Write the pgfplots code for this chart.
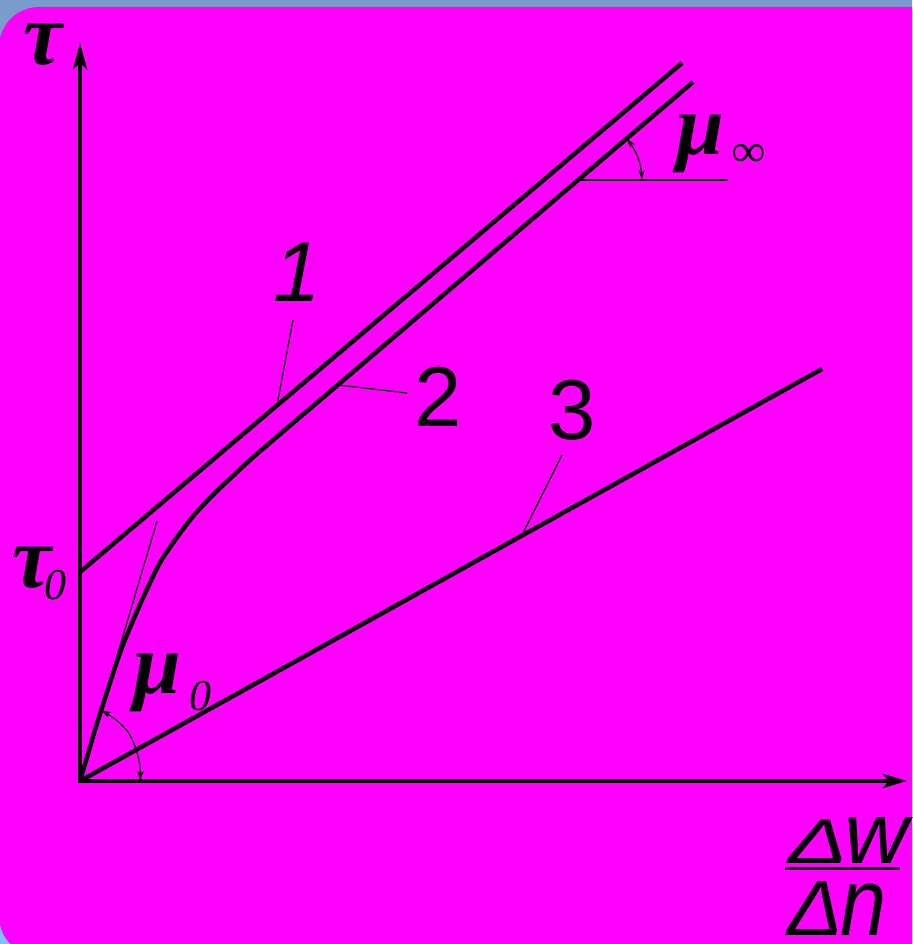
\documentclass[border=0pt]{standalone}
\usepackage{pgfplots}
\pgfplotsset{compat=1.18}
\usepackage{fontspec}
\setmainfont{Liberation Sans}
\newfontfamily\greekserif{Liberation Serif}
\usetikzlibrary{arrows.meta}

\definecolor{panel}{RGB}{255,0,255}
\definecolor{skytop}{RGB}{122,156,204}
\definecolor{skybot}{RGB}{128,192,255}

% glyph helpers
\newcommand{\bgr}[2]{{\fontsize{#1}{#1}\greekserif\bfseries\itshape #2}}
\newcommand{\sub}[2]{{\fontsize{#1}{#1}\greekserif\itshape #2}}
\newcommand{\num}[1]{{\fontsize{42.5pt}{42.5pt}\selectfont #1}}

\begin{document}
\begin{tikzpicture}
\begin{axis}[
  scale only axis, width=456pt, height=472pt,
  xmin=-80, xmax=832, ymin=-163, ymax=781,
  hide axis, clip=true,
]
% backdrop and rounded panel
\fill[top color=skytop, bottom color=skybot] (rel axis cs:0,0) rectangle (rel axis cs:1,1);
\fill[panel, rounded corners=20pt] (axis cs:-81,774) rectangle (axis cs:880,-175);
\coordinate (bbsw) at (rel axis cs:0,0);
\coordinate (bbne) at (rel axis cs:1,1);

% coordinate axes
\addplot[line width=2.4pt, -{Stealth[length=13pt, width=7pt, inset=3pt]}] coordinates {(0,-2) (0,738)};
\addplot[line width=2.4pt, -{Stealth[length=12pt, width=7pt, inset=3pt]}] coordinates {(-2,0) (827,0)};

% curve 1: Bingham line with yield stress tau_0
\addplot[line width=2.2pt] coordinates {(0,209) (602,718)};
% curve 2: pseudoplastic flow curve
\addplot[line width=2.2pt, smooth, tension=0.5] coordinates {
  (0,0) (8,27) (15,51) (28,92) (41,131) (55,165) (68,194) (81,220)
  (98,245) (115,267) (135,288) (155,307) (178,328) (250,389.4)
  (350,474.7) (450,560) (613,699)};
% curve 3: Newtonian line
\addplot[line width=2.2pt] coordinates {(0,0) (742,412)};

% initial tangent of curve 2
\addplot[line width=0.6pt] coordinates {(0,0) (77,260)};

% leader lines to the curve numbers
\addplot[line width=0.6pt] coordinates {(213,461) (197,376)};
\addplot[line width=0.6pt] coordinates {(327,388) (258,396)};
\addplot[line width=0.6pt] coordinates {(482,326) (442,246)};

% angle mu_infinity
\addplot[line width=1pt] coordinates {(498,601) (648,601)};
\addplot[line width=0.6pt, smooth, {Stealth[length=5pt, width=3pt]}-{Stealth[length=5pt, width=3pt]}]
  coordinates {(546.7,642.6) (553.4,633.0) (558.1,622.9) (561.0,612.1) (562,601)};

% angle mu_0
\addplot[line width=0.6pt, smooth, {Stealth[length=5pt, width=3pt]}-{Stealth[length=5pt, width=3pt]}]
  coordinates {(21,71) (35,62) (48,49) (56,32) (60,15) (60,0)};

% labels
\node[inner sep=0, anchor=center] at (axis cs:-37,736) {\bgr{44pt}{τ}};
\node[inner sep=0, anchor=center] at (axis cs:-47.5,213.5) {\bgr{44pt}{τ}};
\node[inner sep=0, anchor=center] at (axis cs:-25,196) {\sub{22pt}{0}};
\node[inner sep=0, anchor=center] at (axis cs:77.5,98) {\bgr{43pt}{μ}};
\node[inner sep=0, anchor=center] at (axis cs:120.5,84.5) {\sub{22pt}{0}};
\node[inner sep=0, anchor=center] at (axis cs:620,637) {\bgr{43pt}{μ}};
\node[inner sep=0, anchor=center] at (axis cs:668.5,625.5) {\sub{23pt}{∞}};

\node[inner sep=0, anchor=center] at (axis cs:217,508.5) {\num{\itshape 1}};
\node[inner sep=0, anchor=center] at (axis cs:358.5,384.5) {\num{2}};
\node[inner sep=0, anchor=center] at (axis cs:492.5,371) {\num{3}};

% axis label: fraction Delta w / Delta n
\node[inner sep=0, anchor=center] at (axis cs:769,-59)
  {\resizebox{60pt}{23pt}{\itshape Δ\kern-0.04em\scalebox{1}[1.38]{w}}};
\addplot[line width=1.5pt] coordinates {(705,-88) (820,-88)};
\node[inner sep=0, anchor=center] at (axis cs:757,-127)
  {\resizebox{50pt}{27pt}{\itshape Δ\kern-0.02em\scalebox{1}[1.22]{n}}};
\end{axis}
\pgfresetboundingbox
\path[use as bounding box] (bbsw) rectangle (bbne);
\end{tikzpicture}
\end{document}
